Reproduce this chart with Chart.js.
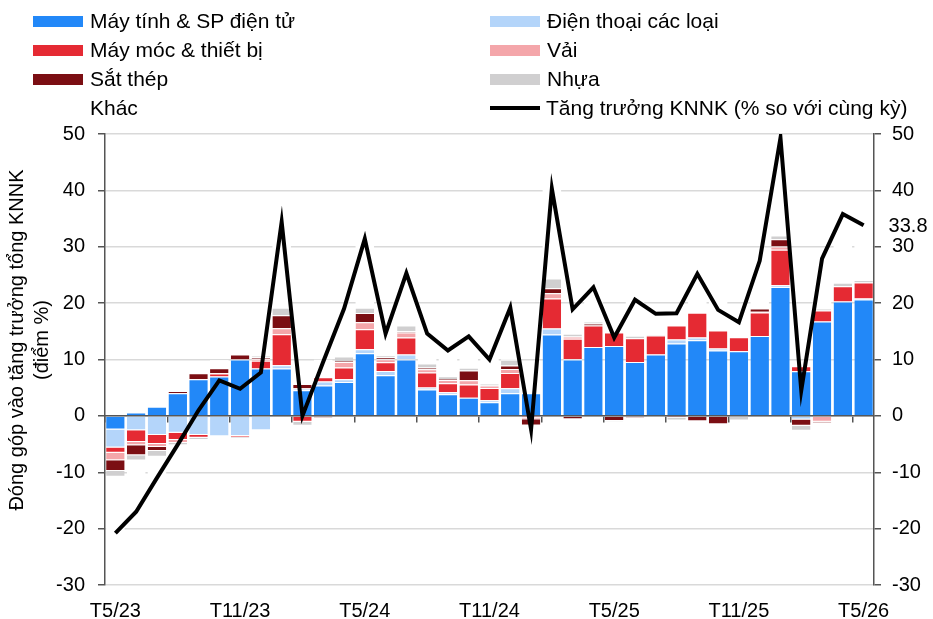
<!DOCTYPE html>
<html>
<head>
<meta charset="utf-8">
<script src="https://cdn.jsdelivr.net/npm/chart.js@4/dist/chart.umd.min.js"></script>
<style>
  body { margin: 0; background: #fff; font-family: "Liberation Sans", Arial, sans-serif; }
  #wrap { position: relative; width: 933px; height: 619px; }
  #legend { position: absolute; left: 0; top: 0; width: 933px; height: 125px; }
  .item { position: absolute; display: flex; align-items: center; height: 24px; font-size: 21px; color: #000; white-space: nowrap; }
  .sw { width: 50px; height: 11px; margin-right: 7px; }
  #ytitle { position: absolute; left: -171px; top: 315px; width: 400px; height: 50px; transform: rotate(-90deg);
            text-align: center; font-size: 20px; line-height: 25px; color: #000; white-space: nowrap; }
</style>
</head>
<body>
<div id="wrap">
  <canvas id="chart" width="933" height="619"></canvas>
  <div id="legend"></div>
  <div id="ytitle">Đóng góp vào tăng trưởng tổng KNNK<br>(điểm %)</div>
</div>
<script>
const months = ["T5/23","T6/23","T7/23","T8/23","T9/23","T10/23","T11/23","T12/23","T1/24","T2/24","T3/24","T4/24",
  "T5/24","T6/24","T7/24","T8/24","T9/24","T10/24","T11/24","T12/24","T1/25","T2/25","T3/25","T4/25",
  "T5/25","T6/25","T7/25","T8/25","T9/25","T10/25","T11/25","T12/25","T1/26","T2/26","T3/26","T4/26","T5/26"];

// đóng góp (điểm %)
const mayTinh = [-2.4,0.6,1.6,4.0,6.5,7.0,10.0,8.4,8.4,4.55,5.4,6.0,11.1,7.2,10.0,4.7,3.85,3.2,2.4,4.0,4.0,14.45,10.0,12.2,
  12.4,9.55,10.9,12.85,13.4,11.6,11.45,14.15,22.85,7.9,16.75,20.3,20.65];
const dienThoai = [-3.2,-2.55,-3.4,-3.0,-3.4,-3.6,-3.55,-2.55,0.6,0.25,0.7,0.5,0.7,0.75,0.9,0.35,0.35,0,0.35,0.9,-0.1,1.05,0.1,0,
  0,0,0,0.7,0.5,0.35,-0.2,0,0.3,-0.65,0,-0.3,0.15];
const mayMoc = [-0.95,-2.1,-1.6,-1.3,-0.5,0.5,-0.2,1.4,5.5,-1.05,0.75,2.1,3.55,1.55,3.0,2.65,1.6,2.35,2.2,2.7,-0.2,5.3,3.6,3.85,
  2.4,4.2,3.35,2.5,4.4,3.2,2.5,4.2,6.3,0.9,1.95,2.7,2.85];
const vai = [-1.3,-0.55,-0.5,-0.5,0,0.1,0,0.35,1.05,0.1,0,0.95,1.25,0.55,0.9,0.55,0.55,0.75,0.45,0.7,-0.3,0.95,0.4,0,
  0,0,0,-0.1,0,0,0,0.1,0.6,0,-1.05,0,0];
const satThep = [-1.95,-1.8,-0.75,0.4,1.05,0.85,0.9,0.25,2.3,0.75,-0.35,0.2,1.65,0.35,0.2,0.35,0.2,1.75,-0.2,0.65,-1.1,0.9,-0.6,0.35,
  -0.9,-0.35,-0.2,-0.2,-0.95,-1.5,0,0.6,1.3,-1.1,-0.2,0,0];
const nhua = [-1.0,-0.9,-1.0,-0.4,-0.4,0,-0.2,0.3,1.35,-0.7,0,0.8,0.95,0.35,1.05,0.7,0.5,0.5,0.35,1.0,0,1.7,0.45,0.35,
  -0.1,0.45,0.2,-0.5,0,0,-0.6,0,0.65,-0.9,0.3,0.6,0.45];
const khac = [-10.0,-9.7,-5.35,-4.3,-2.25,1.45,-2.15,-0.45,15.2,-3.9,3.1,8.45,12.2,3.85,9.25,5.3,4.55,5.55,4.45,9.25,-4.7,15.95,4.95,6.05,
  0.1,6.75,3.85,2.95,7.85,5.15,3.45,8.45,17.3,-0.75,10.15,12.5,9.7];
// tăng trưởng KNNK (% yoy)
const tangTruong = [-20.8,-17.0,-11.0,-5.1,1.0,6.3,4.8,7.7,34.4,0.0,9.6,19.0,31.4,14.6,25.3,14.6,11.6,14.1,10.0,19.2,-2.4,40.3,18.9,22.8,
  13.9,20.6,18.1,18.2,25.2,18.8,16.6,27.5,49.3,4.5,27.9,35.8,33.8];

const FONT = '"Liberation Sans", Arial, sans-serif';
Chart.defaults.font.family = FONT;
Chart.defaults.font.size = 20;
Chart.defaults.color = "#000";

function bar(label, data, color) {
  return { label, data, backgroundColor: color, borderColor: "#fff",
           borderWidth: color === "#FFFFFF" ? 0 : { top: 1, bottom: 1, left: 0, right: 0 },
           barPercentage: 0.89, categoryPercentage: 1, stack: "s", order: 1 };
}

const lastLabel = {
  id: "lastLabel",
  afterDatasetsDraw(chart) {
    const meta = chart.getDatasetMeta(7);
    const pt = meta.data[meta.data.length - 1];
    const ctx = chart.ctx;
    ctx.save();
    ctx.font = "20px " + FONT;
    ctx.fillStyle = "#000";
    ctx.textBaseline = "middle";
    ctx.fillText(tangTruong[tangTruong.length - 1].toFixed(1), pt.x + 25, pt.y + 1);
    ctx.restore();
  }
};

const chart = new Chart(document.getElementById("chart"), {
  type: "bar",
  data: {
    labels: months,
    datasets: [
      bar("Máy tính & SP điện tử", mayTinh, "#2288F8"),
      bar("Điện thoại các loại", dienThoai, "#B4D5FA"),
      bar("Máy móc & thiết bị", mayMoc, "#E52A33"),
      bar("Vải", vai, "#F4A6AA"),
      bar("Sắt thép", satThep, "#7B0E13"),
      bar("Nhựa", nhua, "#D0CFD0"),
      bar("Khác", khac, "#FFFFFF"),
      {
        type: "line", label: "Tăng trưởng KNNK (% so với cùng kỳ)", data: tangTruong,
        yAxisID: "y1", borderColor: "#000", borderWidth: 4, pointRadius: 0,
        tension: 0, borderJoinStyle: "miter", order: 0
      }
    ]
  },
  options: {
    responsive: false,
    animation: false,
    layout: { padding: { top: 134, left: 0, right: 0, bottom: 0 } },
    plugins: { legend: { display: false }, tooltip: { enabled: false } },
    scales: {
      x: {
        stacked: true,
        grid: { display: false, drawTicks: false },
        border: { display: false },
        ticks: { autoSkip: false, maxRotation: 0, padding: 14,
                 callback: (v, i) => (i % 6 === 0 ? months[i] : "") },
        afterFit: s => { s.height = 34; }
      },
      x0: {
        type: "category", axis: "x", position: { y: 0 }, offset: true,
        grid: { drawOnChartArea: false, offset: true, tickLength: 6, lineWidth: 1.5,
                tickColor: c => (c.index % 3 === 0 ? "#555" : "rgba(0,0,0,0)") },
        border: { color: "#555", width: 1.5 },
        ticks: { display: false, autoSkip: false },
        z: 1
      },
      y: {
        stacked: true, min: -30, max: 50,
        ticks: { stepSize: 10, padding: 13 },
        grid: { color: "#D9D9D9", lineWidth: 1.5, tickLength: 7, tickColor: "#555" },
        border: { color: "#555", width: 1.5 },
        afterFit: s => { s.width = 105; }
      },
      y1: {
        position: "right", min: -30, max: 50,
        ticks: { stepSize: 10, padding: 11 },
        grid: { drawOnChartArea: false, tickLength: 7, tickColor: "#555", lineWidth: 1.5 },
        border: { color: "#555", width: 1.5 },
        afterFit: s => { s.width = 59; }
      }
    }
  },
  plugins: [lastLabel]
});

// chú thích 2 cột
const legend = document.getElementById("legend");
chart.data.datasets.forEach((ds, i) => {
  const row = Math.floor(i / 2), col = i % 2;
  const item = document.createElement("div");
  item.className = "item";
  item.style.left = (col ? 490 : 33) + "px";
  item.style.top = (9 + row * 29) + "px";
  const sw = document.createElement("span");
  sw.className = "sw";
  if (ds.type === "line") {
    sw.style.height = "4px";
    sw.style.background = "#000";
    sw.style.marginRight = "6px";
  } else {
    sw.style.background = ds.backgroundColor;
  }
  const txt = document.createElement("span");
  txt.textContent = ds.label;
  item.appendChild(sw);
  item.appendChild(txt);
  legend.appendChild(item);
});
</script>
</body>
</html>
